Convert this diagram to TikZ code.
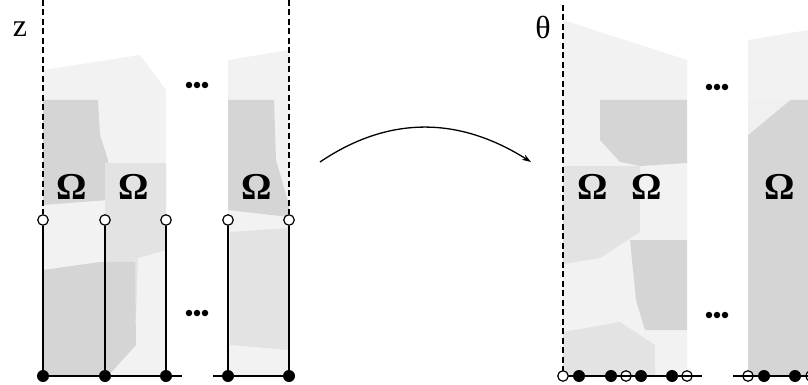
\documentclass[tikz,border=0pt]{standalone}
\usepackage{fontspec}
\setmainfont{Liberation Serif}
\usetikzlibrary{arrows.meta}
\begin{document}
\begin{tikzpicture}[x=1pt,y=-1pt,
  dashline/.style={line width=1.1pt,dash pattern=on 6pt off 3.5pt},
  solidline/.style={line width=1.5pt},
  opendot/.style={circle,draw=black,fill=white,line width=1.2pt,minimum size=10.5pt,inner sep=0pt},
  fulldot/.style={circle,fill=black,minimum size=12pt,inner sep=0pt},
  tdot/.style={circle,fill=black,minimum size=6.5pt,inner sep=0pt},
  lite/.style={fill=gray!10},
  mid/.style={fill=gray!22},
  dark/.style={fill=gray!33},
  omega/.style={font=\fontsize{38}{38}\selectfont\bfseries},
  lbl/.style={font=\fontsize{32}{32}\selectfont}]
\useasboundingbox (0,0) rectangle (808,385);
% ---------- shading, left part ----------
\fill[lite] (43,70) -- (140,55) -- (166,90) -- (166,376) -- (43,376) -- cycle;
\fill[lite] (228,60) -- (289,50) -- (289,376) -- (228,376) -- cycle;
\fill[dark] (43,100) -- (98,100) -- (100,135) -- (108,160) -- (108,200) -- (43,205) -- cycle;
\fill[mid] (105,163) -- (166,163) -- (166,250) -- (138,258) -- (136,318) -- (105,322) -- cycle;
\fill[dark] (43,270) -- (100,262) -- (135,262) -- (136,345) -- (108,376) -- (43,376) -- cycle;
\fill[dark] (228,100) -- (274,100) -- (276,160) -- (289,205) -- (289,217) -- (228,210) -- cycle;
\fill[mid] (230,232) -- (289,228) -- (289,350) -- (230,345) -- cycle;
% ---------- shading, right part ----------
\fill[lite] (563,20) -- (687,60) -- (687,376) -- (563,376) -- cycle;
\fill[lite] (748,40) -- (808,30) -- (808,376) -- (748,376) -- cycle;
\fill[dark] (600,100) -- (687,100) -- (687,163) -- (640,166) -- (620,162) -- (600,140) -- cycle;
\fill[mid] (563,166) -- (640,166) -- (640,232) -- (600,258) -- (563,264) -- cycle;
\fill[dark] (630,240) -- (687,240) -- (687,330) -- (645,330) -- (636,300) -- cycle;
\fill[mid] (563,332) -- (620,322) -- (655,345) -- (655,376) -- (563,376) -- cycle;
\fill[dark] (748,135) -- (790,100) -- (808,100) -- (808,376) -- (748,376) -- cycle;
\fill[gray!12] (748,100) -- (790,100) -- (748,135) -- cycle;
% ---------- left part ----------
\coordinate (ztop1) at (43,0);
\coordinate (ztop2) at (289,0);
\node[opendot] (o1) at (43,220) {};
\node[opendot] (o2) at (105,220) {};
\node[opendot] (o3) at (166,220) {};
\node[opendot] (o4) at (228,220) {};
\node[opendot] (o5) at (289,220) {};
\node[fulldot] (f1) at (43,376) {};
\node[fulldot] (f2) at (105,376) {};
\node[fulldot] (f3) at (166,376) {};
\node[fulldot] (f4) at (228,376) {};
\node[fulldot] (f5) at (289,376) {};
\coordinate (lb1) at (182,376);
\coordinate (lb2) at (213,376);
\draw[dashline] (ztop1) -- (o1);
\draw[dashline] (ztop2) -- (o5);
\draw[solidline] (o1) -- (f1);
\draw[solidline] (o2) -- (f2);
\draw[solidline] (o3) -- (f3);
\draw[solidline] (o4) -- (f4);
\draw[solidline] (o5) -- (f5);
\draw[solidline] (f1) -- (f2) -- (f3) -- (lb1);
\draw[solidline] (lb2) -- (f4) -- (f5);
\node[lbl] (zlab) at (20,29) {z};
\node[omega] (om1) at (72,187) {Ω};
\node[omega] (om2) at (134,187) {Ω};
\node[omega] (om3) at (257,187) {Ω};
\foreach \x in {189,197,205}{\node[tdot] at (\x,85) {}; \node[tdot] at (\x,313) {};}
% ---------- arrow ----------
\coordinate (as) at (320,162);
\coordinate (ae) at (531,162);
\draw[line width=1.3pt,-{Stealth[length=9pt,width=6pt]}] (as) .. controls (385,118) and (455,114) .. (ae);
% ---------- right part ----------
\coordinate (ttop) at (563,5);
\node[lbl] (thlab) at (543,27) {θ};
\coordinate (rb1s) at (563,376);
\coordinate (rb1e) at (702,376);
\coordinate (rb2s) at (733,376);
\coordinate (rb2e) at (815,376);
\draw[dashline] (ttop) -- (rb1s);
\draw[solidline] (rb1s) -- (rb1e);
\draw[solidline] (rb2s) -- (rb2e);
\node[opendot] at (563,376) {};
\foreach \x in {579,611,641,672,764,795}{\node[fulldot] at (\x,376) {};}
\foreach \x in {626,687,748,811}{\node[opendot] at (\x,376) {}; \draw[line width=1.1pt] (\x-5,376) -- (\x+5,376);}
\node[omega] (om4) at (593,187) {Ω};
\node[omega] (om5) at (647,187) {Ω};
\node[omega] (om6) at (780,187) {Ω};
\foreach \x in {709,717,725}{\node[tdot] at (\x,87) {}; \node[tdot] at (\x,315) {};}
\end{tikzpicture}
\end{document}
